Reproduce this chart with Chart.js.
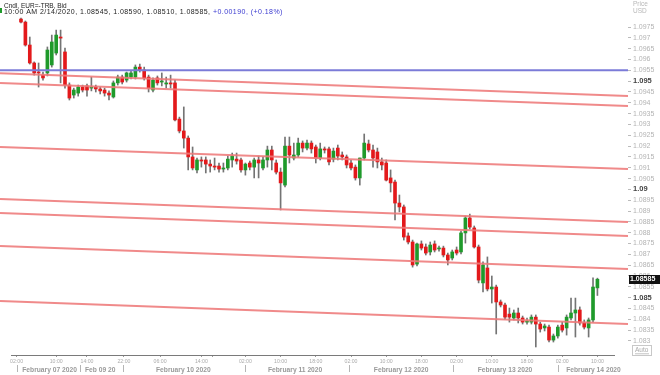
<!DOCTYPE html>
<html>
<head>
<meta charset="utf-8">
<script src="https://cdn.jsdelivr.net/npm/chart.js@4.4.1/dist/chart.umd.min.js"></script>
<style>
    html, body { margin: 0; padding: 0; background: #fff; }
    #wrap { width: 660px; height: 375px; }
</style>
</head>
<body>
<div id="wrap"><canvas id="chart" width="660" height="375"></canvas></div>
<script>
// Hourly EUR= candles, Feb 07 - Feb 14 2020
const opens = [
    1.09787, 1.09773, 1.09667, 1.09584, 1.09542, 1.09528, 1.09538, 1.09575, 1.09630, 1.09704,
    1.09635, 1.09482, 1.09436, 1.09445, 1.09473, 1.09478, 1.09468, 1.09473, 1.09464, 1.09459,
    1.09445, 1.09427, 1.09492, 1.09519, 1.09505, 1.09519, 1.09519, 1.09565, 1.09552, 1.09519,
    1.09459, 1.09515, 1.09496, 1.09487, 1.09492, 1.09492, 1.09325, 1.09270, 1.09237, 1.09150,
    1.09090, 1.09136, 1.09136, 1.09117, 1.09108, 1.09108, 1.09094, 1.09099, 1.09136, 1.09140,
    1.09136, 1.09090, 1.09122, 1.09103, 1.09136, 1.09099, 1.09136, 1.09182, 1.09122, 1.09080,
    1.09020, 1.09200, 1.09145, 1.09159, 1.09214, 1.09191, 1.09214, 1.09196, 1.09145, 1.09187,
    1.09187, 1.09140, 1.09191, 1.09159, 1.09150, 1.09122, 1.09103, 1.09053, 1.09145, 1.09210,
    1.09182, 1.09173, 1.09127, 1.09122, 1.09053, 1.09034, 1.08937, 1.08919, 1.08785, 1.08757,
    1.08655, 1.08748, 1.08734, 1.08711, 1.08748, 1.08725, 1.08729, 1.08697, 1.08683, 1.08720,
    1.08711, 1.08799, 1.08868, 1.08822, 1.08734, 1.08568, 1.08637, 1.08540, 1.08549, 1.08480,
    1.08466, 1.08424, 1.08406, 1.08429, 1.08406, 1.08387, 1.08387, 1.08410, 1.08378, 1.08360,
    1.08364, 1.08304, 1.08323, 1.08373, 1.08360, 1.08406, 1.08429, 1.08443, 1.08383, 1.08360,
    1.08397, 1.08545
];
const highs = [
    1.09792, 1.09778, 1.09704, 1.09589, 1.09584, 1.09542, 1.09658, 1.09713, 1.09736, 1.09736,
    1.09653, 1.09492, 1.09468, 1.09482, 1.09482, 1.09487, 1.09519, 1.09482, 1.09473, 1.09468,
    1.09455, 1.09501, 1.09528, 1.09528, 1.09542, 1.09547, 1.09575, 1.09579, 1.09565, 1.09528,
    1.09515, 1.09524, 1.09538, 1.09519, 1.09528, 1.09505, 1.09334, 1.09381, 1.09247, 1.09196,
    1.09145, 1.09150, 1.09150, 1.09136, 1.09145, 1.09122, 1.09122, 1.09154, 1.09168, 1.09168,
    1.09145, 1.09122, 1.09131, 1.09145, 1.09154, 1.09150, 1.09200, 1.09200, 1.09136, 1.09099,
    1.09242, 1.09242, 1.09214, 1.09237, 1.09224, 1.09228, 1.09224, 1.09205, 1.09214, 1.09196,
    1.09196, 1.09191, 1.09205, 1.09173, 1.09159, 1.09136, 1.09113, 1.09145, 1.09256, 1.09228,
    1.09205, 1.09191, 1.09145, 1.09136, 1.09090, 1.09043, 1.08974, 1.08928, 1.08799, 1.08766,
    1.08752, 1.08762, 1.08748, 1.08757, 1.08762, 1.08738, 1.08738, 1.08706, 1.08720, 1.08734,
    1.08808, 1.08877, 1.08886, 1.08831, 1.08743, 1.08665, 1.08688, 1.08600, 1.08558, 1.08489,
    1.08475, 1.08452, 1.08443, 1.08452, 1.08415, 1.08406, 1.08420, 1.08420, 1.08387, 1.08378,
    1.08373, 1.08332, 1.08373, 1.08387, 1.08420, 1.08498, 1.08498, 1.08457, 1.08397, 1.08406,
    1.08591, 1.08590
];
const lows = [
    1.09769, 1.09662, 1.09579, 1.09528, 1.09473, 1.09505, 1.09524, 1.09565, 1.09621, 1.09492,
    1.09468, 1.09413, 1.09422, 1.09431, 1.09450, 1.09431, 1.09455, 1.09450, 1.09441, 1.09431,
    1.09413, 1.09422, 1.09482, 1.09487, 1.09496, 1.09510, 1.09510, 1.09542, 1.09505, 1.09450,
    1.09450, 1.09482, 1.09478, 1.09468, 1.09468, 1.09316, 1.09261, 1.09191, 1.09090, 1.09090,
    1.09076, 1.09103, 1.09076, 1.09080, 1.09090, 1.09080, 1.09080, 1.09090, 1.09103, 1.09117,
    1.09080, 1.09066, 1.09090, 1.09053, 1.09053, 1.09090, 1.09103, 1.09090, 1.09071, 1.08905,
    1.09011, 1.09122, 1.09136, 1.09150, 1.09173, 1.09182, 1.09168, 1.09122, 1.09136, 1.09168,
    1.09113, 1.09127, 1.09136, 1.09136, 1.09099, 1.09090, 1.09043, 1.09020, 1.09136, 1.09173,
    1.09103, 1.09099, 1.09090, 1.09039, 1.08988, 1.08859, 1.08896, 1.08766, 1.08748, 1.08641,
    1.08646, 1.08720, 1.08697, 1.08697, 1.08711, 1.08715, 1.08688, 1.08651, 1.08674, 1.08697,
    1.08702, 1.08752, 1.08817, 1.08729, 1.08568, 1.08526, 1.08531, 1.08475, 1.08332, 1.08457,
    1.08401, 1.08387, 1.08397, 1.08383, 1.08378, 1.08378, 1.08378, 1.08272, 1.08341, 1.08346,
    1.08295, 1.08295, 1.08313, 1.08341, 1.08327, 1.08397, 1.08318, 1.08373, 1.08355, 1.08318,
    1.08387, 1.08510
];
const closes = [
    1.09773, 1.09667, 1.09584, 1.09538, 1.09538, 1.09515, 1.09644, 1.09681, 1.09713, 1.09699,
    1.09482, 1.09422, 1.09459, 1.09473, 1.09459, 1.09459, 1.09473, 1.09464, 1.09455, 1.09445,
    1.09436, 1.09492, 1.09519, 1.09496, 1.09538, 1.09538, 1.09565, 1.09552, 1.09515, 1.09468,
    1.09505, 1.09492, 1.09501, 1.09492, 1.09487, 1.09321, 1.09270, 1.09237, 1.09150, 1.09099,
    1.09136, 1.09131, 1.09117, 1.09108, 1.09103, 1.09094, 1.09099, 1.09140, 1.09154, 1.09131,
    1.09090, 1.09117, 1.09103, 1.09136, 1.09122, 1.09136, 1.09182, 1.09136, 1.09080, 1.09030,
    1.09200, 1.09159, 1.09159, 1.09214, 1.09191, 1.09214, 1.09187, 1.09145, 1.09187, 1.09182,
    1.09127, 1.09177, 1.09154, 1.09150, 1.09113, 1.09099, 1.09053, 1.09145, 1.09214, 1.09182,
    1.09145, 1.09127, 1.09113, 1.09043, 1.09030, 1.08937, 1.08919, 1.08780, 1.08757, 1.08651,
    1.08748, 1.08729, 1.08706, 1.08743, 1.08720, 1.08729, 1.08697, 1.08674, 1.08711, 1.08706,
    1.08799, 1.08868, 1.08826, 1.08734, 1.08581, 1.08651, 1.08540, 1.08549, 1.08480, 1.08466,
    1.08410, 1.08410, 1.08429, 1.08406, 1.08387, 1.08392, 1.08410, 1.08378, 1.08355, 1.08369,
    1.08304, 1.08323, 1.08364, 1.08350, 1.08410, 1.08429, 1.08443, 1.08383, 1.08364, 1.08397,
    1.08549, 1.08585
];

// time axis (candle slots)
const timeTicks = [-1, 8, 15, 23.4, 31.6, 41, 43.6, 51, 59, 67, 75, 83, 91, 99, 107, 115, 123, 131];
const timeLabels = ['02:00', '10:00', '14:00', '22:00', '06:00', '14:00', '', '02:00', '10:00', '18:00',
                    '02:00', '10:00', '18:00', '02:00', '10:00', '18:00', '02:00', '10:00'];
const dayLabels = ['February 07 2020', 'Feb 09 20', 'February 10 2020', 'February 11 2020',
                   'February 12 2020', 'February 13 2020', 'February 14 2020'];
const dayCenters = [6.5, 18, 36.9, 62.3, 86.4, 110, 130.1];
const dayBreaks = [-0.9, 13.4, 23.2, 50.9, 74.5, 98.2, 122];

// price axis
const priceTicks = [];
for (let p = 10830; p <= 10975; p += 5) priceTicks.push(p / 10000);

// drawn lines: regression channel lines and one horizontal level
const trendStart = [1.09537, 1.09491, 1.09196, 1.08956, 1.08891, 1.08739, 1.08485];
const trendEnd   = [1.09431, 1.09385, 1.09094, 1.08849, 1.08785, 1.08632, 1.08378];
const levelLine = 1.0955;

const lastTime = '10:00 AM 2/14/2020';
const changeText = '+0.00190, (+0.18%)';

const xMin = -4.77, xMax = 137.95;
const yMin = 1.08235, yMax = 1.09875;

const FONT = '"Liberation Sans", Arial, sans-serif';

const idx = opens.map((_, i) => i);
const wicks = idx.map(i => ({ x: i, y: [lows[i], highs[i]] }));
const bodies = idx.map(i => ({ x: i, y: [opens[i], closes[i]] }));
const bodyColors = idx.map(i => closes[i] >= opens[i] ? '#1f9a2b' : '#e3191b');

const lineSets = trendStart.map((s, k) => ({
    type: 'line',
    data: [{ x: xMin, y: s }, { x: xMax, y: trendEnd[k] }],
    borderColor: 'rgba(238, 122, 122, 0.88)',
    borderWidth: 2,
    pointRadius: 0,
    order: 0
}));
lineSets.push({
    type: 'line',
    data: [{ x: xMin, y: levelLine }, { x: xMax, y: levelLine }],
    borderColor: '#7b7bd8',
    borderWidth: 2,
    pointRadius: 0,
    order: 0
});

function isMajor(ctx) {
    return !!(ctx.tick && Math.round(ctx.tick.value * 10000) % 50 === 0);
}

const overlay = {
    id: 'overlay',
    afterDraw(chart) {
        const ctx = chart.ctx;
        const xs = chart.scales.x, ys = chart.scales.y;
        const area = chart.chartArea;
        ctx.save();

        // bottom axis line
        ctx.strokeStyle = '#7a7a7a';
        ctx.lineWidth = 1;
        ctx.beginPath();
        ctx.moveTo(area.left + 11, area.bottom + 0.5);
        ctx.lineTo(area.right - 13, area.bottom + 0.5);
        ctx.stroke();

        // day separators and names
        ctx.strokeStyle = '#b5b5b5';
        dayBreaks.forEach(v => {
            const px = Math.round(xs.getPixelForValue(v)) + 0.5;
            ctx.beginPath();
            ctx.moveTo(px, area.bottom + 10);
            ctx.lineTo(px, area.bottom + 17);
            ctx.stroke();
        });
        ctx.font = 'bold 6.7px ' + FONT;
        ctx.fillStyle = '#9a9a9a';
        ctx.textAlign = 'center';
        ctx.textBaseline = 'middle';
        dayLabels.forEach((t, k) => {
            ctx.fillText(t, xs.getPixelForValue(dayCenters[k]), area.bottom + 15.5);
        });

        // header
        const n = closes.length - 1;
        const head = lastTime + ', ' + [opens[n], highs[n], lows[n], closes[n]].map(v => v.toFixed(5)).join(', ') + ', ';
        ctx.textAlign = 'left';
        ctx.textBaseline = 'alphabetic';
        ctx.fillStyle = '#222';
        ctx.font = '6.5px ' + FONT;
        ctx.fillText('Cndl, EUR=-TRB, Bid', 4, 7.5);
        ctx.font = '7px ' + FONT;
        ctx.letterSpacing = '0.45px';
        ctx.fillText(head, 4, 14);
        const headW = ctx.measureText(head).width;
        ctx.fillStyle = '#3a3ad0';
        ctx.fillText(changeText, 4 + headW, 14);
        ctx.letterSpacing = '0px';
        ctx.fillStyle = '#1f9a2b';
        ctx.fillRect(0, 8, 2, 5);

        // axis caption
        ctx.fillStyle = '#b8b8b8';
        ctx.font = '6.5px ' + FONT;
        ctx.fillText('Price', area.right + 5, 6);
        ctx.fillText('USD', area.right + 5, 13);

        // last price tag
        const py = Math.round(ys.getPixelForValue(closes[n]));
        ctx.fillStyle = '#111';
        ctx.fillRect(area.right + 1, py - 4, 31, 9);
        ctx.fillStyle = '#fff';
        ctx.font = 'bold 7px ' + FONT;
        ctx.textBaseline = 'middle';
        ctx.fillText(closes[n].toFixed(5), area.right + 2, py + 0.5);

        // Auto button
        ctx.strokeStyle = '#c8c8c8';
        ctx.strokeRect(area.right + 4.5, area.bottom - 9.5, 19, 10);
        ctx.fillStyle = '#aaa';
        ctx.font = '6.5px ' + FONT;
        ctx.fillText('Auto', area.right + 7, area.bottom - 4.5);
        ctx.fillRect(area.right + 7, area.bottom - 1.5, 14, 0.7);

        ctx.restore();
    }
};

new Chart(document.getElementById('chart'), {
    type: 'bar',
    data: {
        datasets: [
            ...lineSets,
            {
                data: bodies,
                backgroundColor: bodyColors,
                barThickness: 3,
                minBarLength: 1,
                grouped: false,
                order: 1
            },
            {
                data: wicks,
                backgroundColor: '#747474',
                barThickness: 1,
                grouped: false,
                order: 2
            }
        ]
    },
    options: {
        responsive: false,
        animation: false,
        devicePixelRatio: 1,
        layout: { padding: 0 },
        plugins: {
            legend: { display: false },
            tooltip: { enabled: false }
        },
        scales: {
            x: {
                type: 'linear',
                min: xMin,
                max: xMax,
                offset: false,
                bounds: 'data',
                border: { display: false },
                grid: { display: true, drawOnChartArea: false, drawTicks: true, tickLength: 2, color: '#9a9a9a', offset: false },
                ticks: {
                    autoSkip: false,
                    maxRotation: 0,
                    padding: 1,
                    color: '#ababab',
                    font: { family: FONT, size: 5.2 },
                    callback: (v, i) => timeLabels[i]
                },
                afterBuildTicks: scale => { scale.ticks = timeTicks.map(v => ({ value: v })); },
                afterFit: scale => { scale.height = 20; scale.paddingLeft = 0; scale.paddingRight = 0; }
            },
            y: {
                position: 'right',
                min: yMin,
                max: yMax,
                beginAtZero: false,
                bounds: 'data',
                border: { display: false },
                grid: { display: true, drawOnChartArea: false, drawTicks: true, tickLength: 3, color: '#bbb' },
                ticks: {
                    autoSkip: false,
                    padding: 2,
                    color: ctx => isMajor(ctx) ? '#444' : '#b3b3b3',
                    font: ctx => ({ family: FONT, size: isMajor(ctx) ? 7.5 : 7, weight: isMajor(ctx) ? 'bold' : 'normal' }),
                    callback: v => String(+v.toFixed(4))
                },
                afterBuildTicks: scale => { scale.ticks = priceTicks.map(v => ({ value: v })); },
                afterFit: scale => { scale.width = 32; scale.paddingTop = 0; scale.paddingBottom = 0; }
            }
        }
    },
    plugins: [overlay]
});
</script>
</body>
</html>
